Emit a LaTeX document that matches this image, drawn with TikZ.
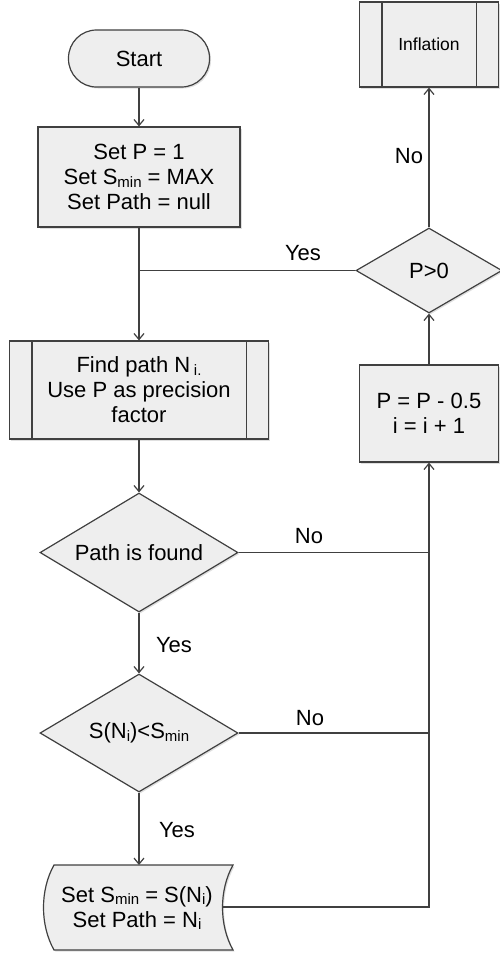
\documentclass[tikz,border=0pt]{standalone}
\usepackage{fontspec}
\setmainfont{Liberation Sans}
\usetikzlibrary{arrows.meta,shapes.geometric,calc,shadows}
\definecolor{ln}{RGB}{64,64,64}
\definecolor{fl}{RGB}{238,238,238}
\newcommand\sbs[1]{\raisebox{-0.12em}{\fontsize{15}{15}\selectfont #1}}
\begin{document}
\begin{tikzpicture}[x=1pt,y=-1pt,
  line width=1.2pt,
  shd/.style={drop shadow={shadow xshift=1.5pt,shadow yshift=-1.5pt,opacity=0.25,fill=gray}},
  box/.style={draw=ln,fill=fl,shd,inner sep=2pt,align=center,
    font=\fontsize{22}{25}\selectfont},
  dec/.style={box,shape=diamond,inner sep=0pt},
  lbl/.style={anchor=base,font=\fontsize{22}{25}\selectfont,inner sep=0pt},
  arr/.style={draw=ln,-{Straight Barb[length=6pt,width=10pt]}},
  con/.style={draw=ln}]
\useasboundingbox (0,0) rectangle (499,954);

% nodes
\node[box,rounded corners=28pt,minimum width=141pt,minimum height=57pt] (start) at (139,58.5) {Start};
\node[box,minimum width=202pt,minimum height=100pt] (set) at (139,177) {Set P = 1\\Set S\sbs{min} = MAX\\Set Path = null};
\node[box,minimum width=259pt,minimum height=98pt] (find) at (139,390) {Find path N\,\sbs{i.}\\Use P as precision\\factor};
\draw[ln] ($(find.north west)+(23,0)$) -- ($(find.south west)+(23,0)$);
\draw[ln] ($(find.north east)+(-23,0)$) -- ($(find.south east)+(-23,0)$);
\node[dec,aspect=1.66,minimum width=198pt,minimum height=119pt] (pf) at (139,552.5) {Path is found};
\node[dec,aspect=1.66,minimum width=198pt,minimum height=118pt] (sd) at (139,733) {S(N\sbs{i})<S\sbs{min}};

% bottom stored-data shape
\path[draw=ln,fill=fl,shd] (54,865) -- (233,865) .. controls (219,890) and (219,925) .. (233,950)
  -- (54,950) .. controls (40,925) and (40,890) .. (54,865) -- cycle;
\node[align=center,font=\fontsize{22}{25}\selectfont,inner sep=0pt] (bot) at (137,908) {Set S\sbs{min} = S(N\sbs{i})\\Set Path = N\sbs{i}};
\coordinate (botT) at (139,865);
\coordinate (botE) at (222.5,907);

% right column
\node[box,minimum width=139pt,minimum height=85pt,font=\fontsize{17.5}{20}\selectfont] (infl) at (429,44.5) {Inflation};
\draw[ln] ($(infl.north west)+(23,0)$) -- ($(infl.south west)+(23,0)$);
\draw[ln] ($(infl.north east)+(-23,0)$) -- ($(infl.south east)+(-23,0)$);
\node[dec,aspect=1.72,minimum width=146pt,minimum height=85pt] (p0) at (429,270.5) {P>0};
\node[box,minimum width=139pt,minimum height=97pt] (pm) at (429,413.5) {P = P - 0.5\\i = i + 1};

% connectors
\draw[arr] (start) -- (set);
\draw[arr] (set) -- (find);
\coordinate (j1) at (139,270.5);
\draw[con] (p0.west) -- (j1);
\draw[arr] (find) -- (pf);
\draw[arr] (pf) -- (sd);
\draw[arr] (sd) -- (botT);
\draw[con] (pf.east) -- (pf.east -| pm.south);
\draw[con] (sd.east) -- (sd.east -| pm.south);
\draw[arr] (botE) -| (pm.south);
\draw[arr] (pm) -- (p0);
\draw[arr] (p0) -- (infl);

% labels
\node[lbl] (l1) at (409,163) {No};
\node[lbl] (l2) at (303,260) {Yes};
\node[lbl] (l3) at (309,543) {No};
\node[lbl] (l4) at (174,652) {Yes};
\node[lbl] (l5) at (310,725) {No};
\node[lbl] (l6) at (177,837) {Yes};
\end{tikzpicture}
\end{document}
